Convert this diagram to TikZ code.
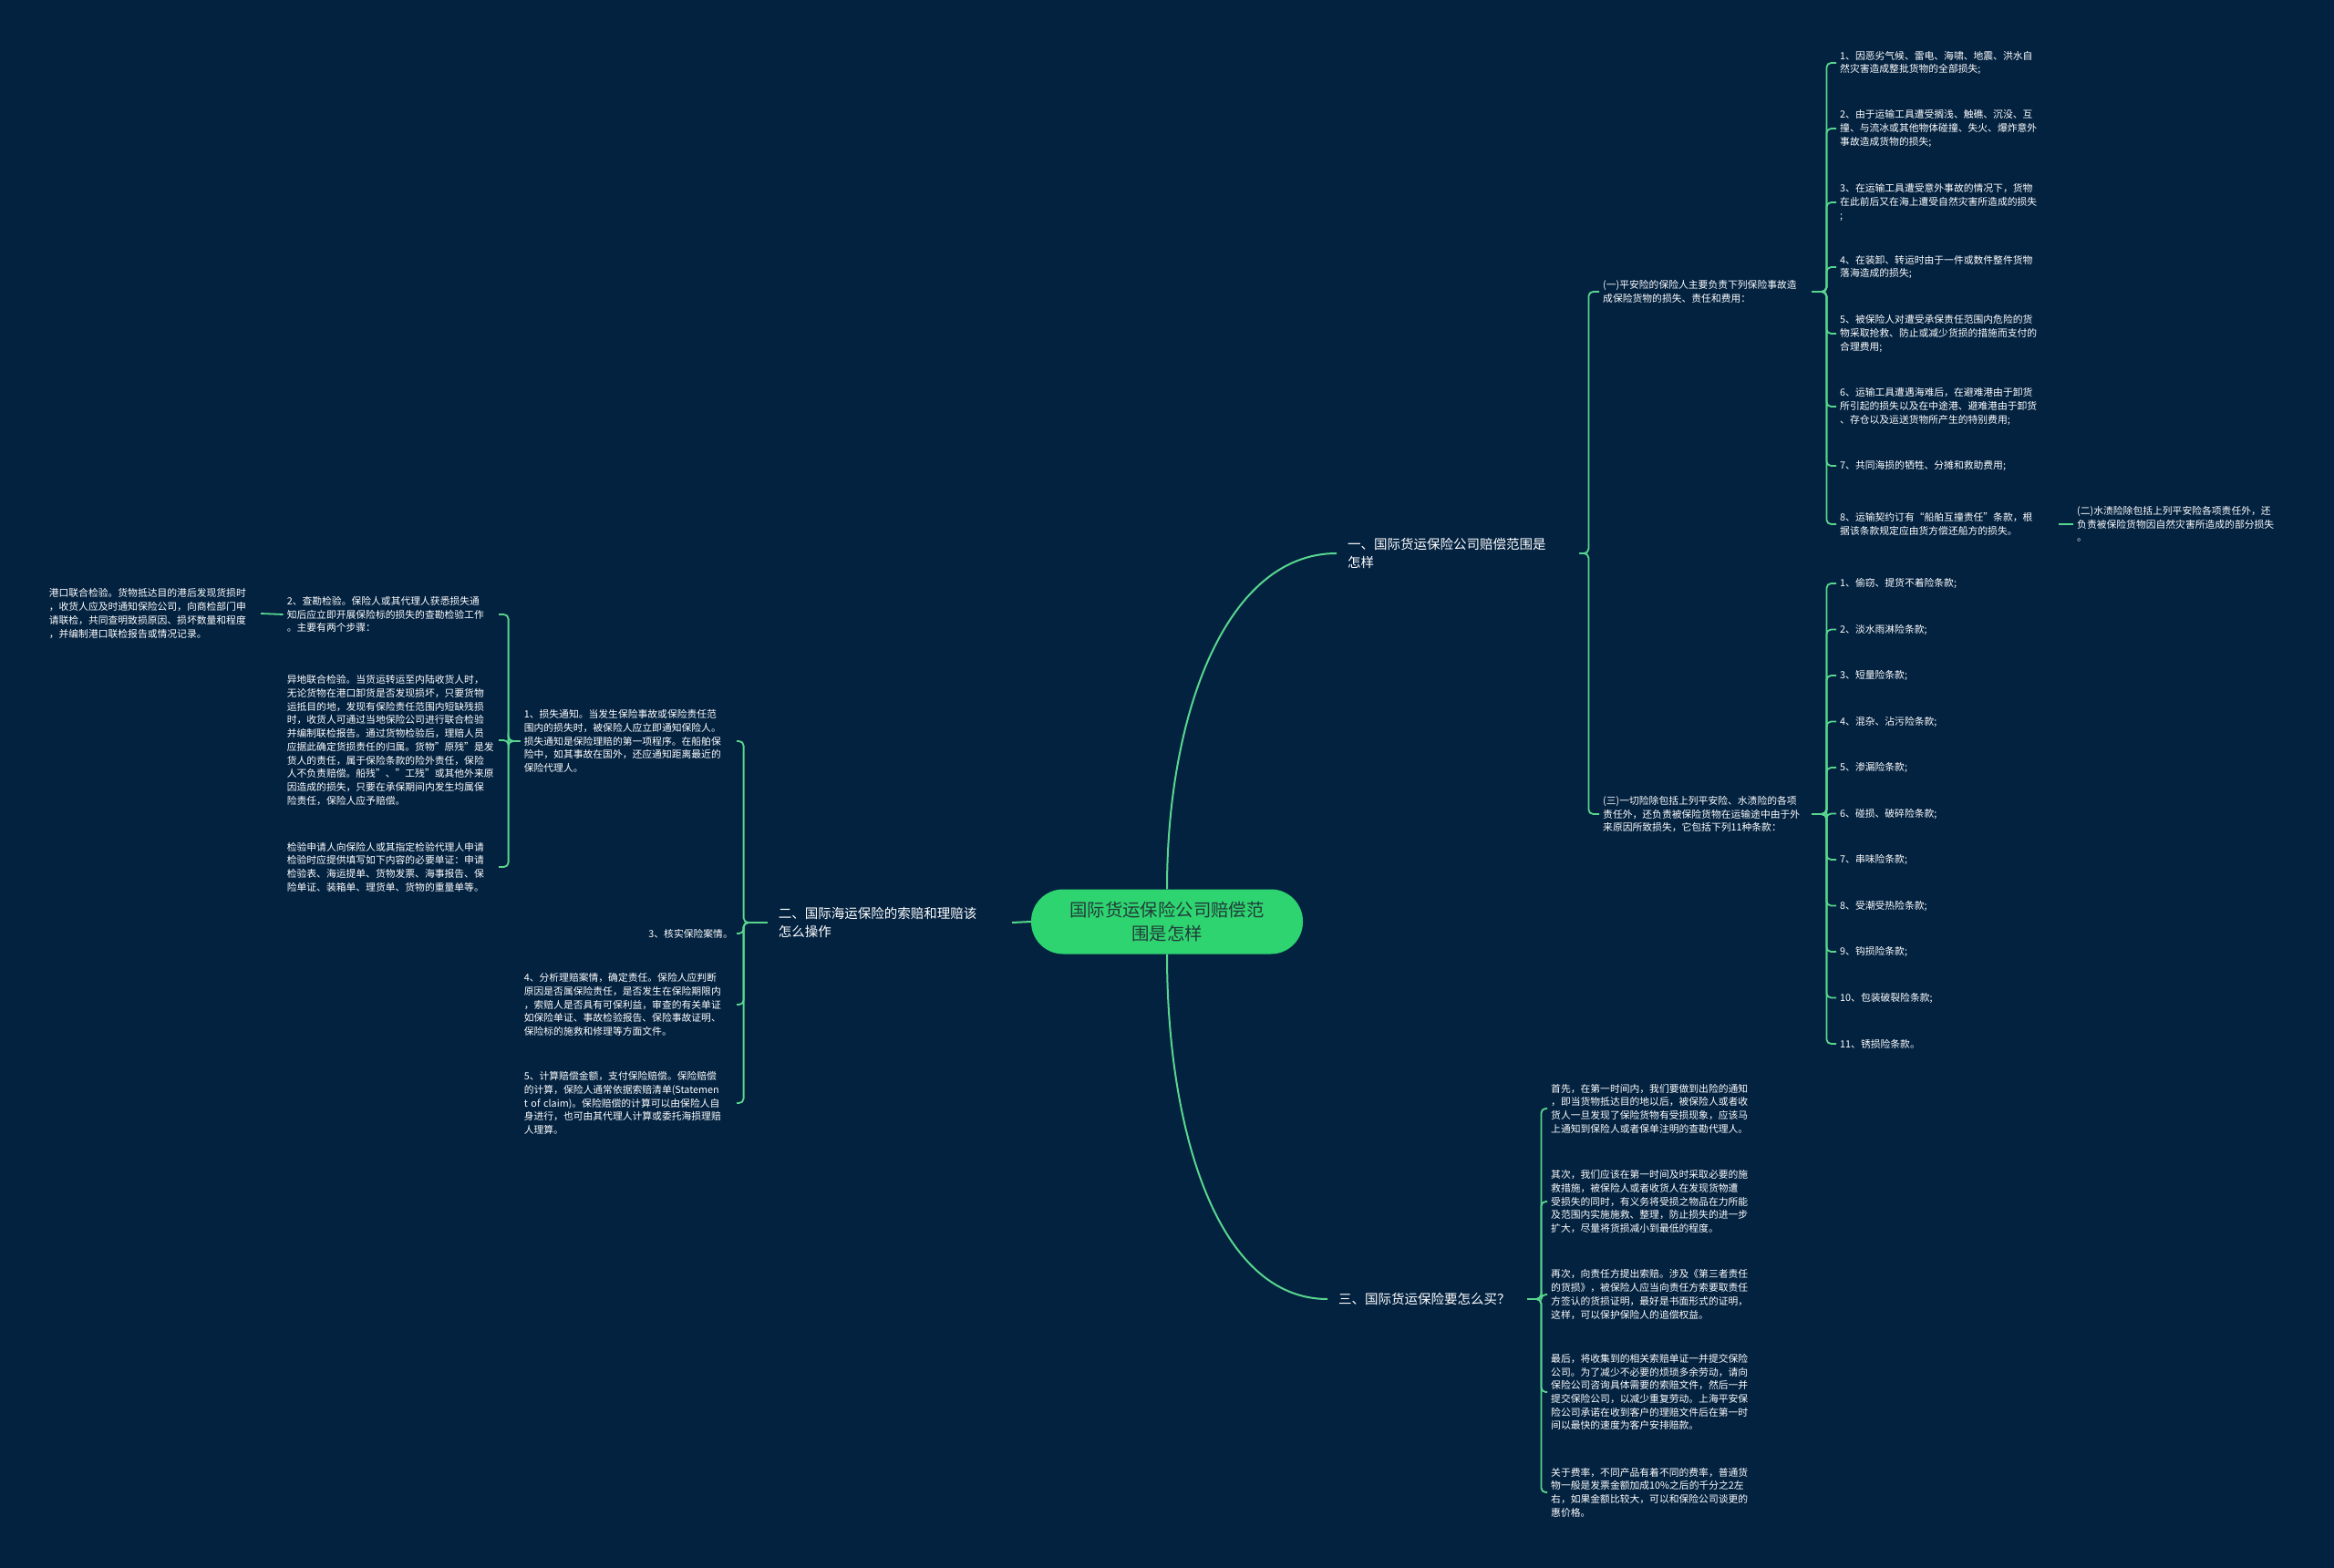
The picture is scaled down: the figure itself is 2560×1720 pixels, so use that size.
\documentclass[tikz,border=0pt]{standalone}
\usepackage{fontspec}
\setmainfont{Noto Sans CJK SC}
\usepackage{tikz}
\definecolor{navybg}{RGB}{3,34,64}
\definecolor{linkgreen}{RGB}{88,214,142}
\definecolor{rootgreen}{RGB}{46,212,112}
\definecolor{roottext}{RGB}{34,60,58}

\tikzset{
  leaf/.style={text=white, font=\fontsize{10.8}{14.7}\selectfont, align=left, inner xsep=4pt, inner ysep=2pt},
  topic/.style={text=white, font=\fontsize{14.5}{19.5}\selectfont, align=left, inner xsep=12pt, inner ysep=2pt},
  link/.style={draw=linkgreen, line width=1.8pt, rounded corners=5pt},
  mainlink/.style={draw=linkgreen, line width=2pt},
}

\begin{document}
\begin{tikzpicture}[x=1pt, y=-1pt]
  \useasboundingbox (0,0) rectangle (2560,1720);
  \fill[navybg] (0,0) rectangle (2560,1720);

  % root
  \node[fill=rootgreen, rounded corners=35pt, minimum width=298pt, minimum height=71pt,
    text=roottext, font=\fontsize{19.4}{26}\selectfont, align=center] (root) at (1280,1011)
    {国际货运保险公司赔偿范\\围是怎样};

  % branch one: scope of compensation
  \node[topic, anchor=west, text width=242pt] (b1) at (1466,607) {一、国际货运保险公司赔偿范围是\\怎样};
  \node[leaf, anchor=west, text width=225pt] (s1) at (1754,320)
    {(一)平安险的保险人主要负责下列保险事故造\\成保险货物的损失、责任和费用：};
  \node[leaf, anchor=west, text width=225pt] (s3) at (1754,893)
    {(三)一切险除包括上列平安险、水渍险的各项\\责任外，还负责被保险货物在运输途中由于外\\来原因所致损失，它包括下列11种条款：};

  \node[leaf, anchor=west, text width=236pt] (i1) at (2014,69) {1、因恶劣气候、雷电、海啸、地震、洪水自\\然灾害造成整批货物的全部损失;};
  \node[leaf, anchor=west, text width=236pt] (i2) at (2014,141) {2、由于运输工具遭受搁浅、触礁、沉没、互\\撞、与流冰或其他物体碰撞、失火、爆炸意外\\事故造成货物的损失;};
  \node[leaf, anchor=west, text width=236pt] (i3) at (2014,222) {3、在运输工具遭受意外事故的情况下，货物\\在此前后又在海上遭受自然灾害所造成的损失\\;};
  \node[leaf, anchor=west, text width=236pt] (i4) at (2014,293) {4、在装卸、转运时由于一件或数件整件货物\\落海造成的损失;};
  \node[leaf, anchor=west, text width=236pt] (i5) at (2014,366) {5、被保险人对遭受承保责任范围内危险的货\\物采取抢救、防止或减少货损的措施而支付的\\合理费用;};
  \node[leaf, anchor=west, text width=236pt] (i6) at (2014,446) {6、运输工具遭遇海难后，在避难港由于卸货\\所引起的损失以及在中途港、避难港由于卸货\\、存仓以及运送货物所产生的特别费用;};
  \node[leaf, anchor=west, text width=236pt] (i7) at (2014,511) {7、共同海损的牺牲、分摊和救助费用;};
  \node[leaf, anchor=west, text width=236pt] (i8) at (2014,575) {8、运输契约订有“船舶互撞责任”条款，根\\据该条款规定应由货方偿还船方的损失。};
  \node[leaf, anchor=west, text width=240pt] (s2) at (2274,575)
    {(二)水渍险除包括上列平安险各项责任外，还\\负责被保险货物因自然灾害所造成的部分损失\\。};

  \foreach \txt [count=\k] in {1、偷窃、提货不着险条款;, 2、淡水雨淋险条款;, 3、短量险条款;,
      4、混杂、沾污险条款;, 5、渗漏险条款;, 6、碰损、破碎险条款;, 7、串味险条款;,
      8、受潮受热险条款;, 9、钩损险条款;, 10、包装破裂险条款;, 11、锈损险条款。} {
    \node[leaf, anchor=west] (j\k) at (2014,{640+(\k-1)*50.5}) {\txt};
  }

  % branch three: how to buy
  \node[topic, anchor=west, text width=195pt] (b3) at (1456,1425) {三、国际货运保险要怎么买？};
  \node[leaf, anchor=west, text width=235pt] (p1) at (1697,1216)
    {首先，在第一时间内，我们要做到出险的通知\\，即当货物抵达目的地以后，被保险人或者收\\货人一旦发现了保险货物有受损现象，应该马\\上通知到保险人或者保单注明的查勘代理人。};
  \node[leaf, anchor=west, text width=235pt] (p2) at (1697,1318)
    {其次，我们应该在第一时间及时采取必要的施\\救措施，被保险人或者收货人在发现货物遭\\受损失的同时，有义务将受损之物品在力所能\\及范围内实施施救、整理，防止损失的进一步\\扩大，尽量将货损减小到最低的程度。};
  \node[leaf, anchor=west, text width=235pt] (p3) at (1697,1420)
    {再次，向责任方提出索赔。涉及《第三者责任\\的货损》，被保险人应当向责任方索要取责任\\方签认的货损证明，最好是书面形式的证明，\\这样，可以保护保险人的追偿权益。};
  \node[leaf, anchor=west, text width=235pt] (p4) at (1697,1527)
    {最后，将收集到的相关索赔单证一并提交保险\\公司。为了减少不必要的烦琐多余劳动，请向\\保险公司咨询具体需要的索赔文件，然后一并\\提交保险公司，以减少重复劳动。上海平安保\\险公司承诺在收到客户的理赔文件后在第一时\\间以最快的速度为客户安排赔款。};
  \node[leaf, anchor=west, text width=235pt] (p5) at (1697,1637)
    {关于费率，不同产品有着不同的费率，普通货\\物一般是发票金额加成10\%之后的千分之2左\\右，如果金额比较大，可以和保险公司谈更的\\惠价格。};

  % branch two: claims and settlement
  \node[topic, anchor=east, text width=244pt] (b2) at (1110,1012) {二、国际海运保险的索赔和理赔该\\怎么操作};
  \node[leaf, anchor=east, text width=229pt] (l1) at (808,813)
    {1、损失通知。当发生保险事故或保险责任范\\围内的损失时，被保险人应立即通知保险人。\\损失通知是保险理赔的第一项程序。在船舶保\\险中，如其事故在国外，还应通知距离最近的\\保险代理人。};
  \node[leaf, anchor=east] (l3) at (808,1024) {3、核实保险案情。};
  \node[leaf, anchor=east, text width=229pt] (l4) at (808,1102)
    {4、分析理赔案情，确定责任。保险人应判断\\原因是否属保险责任，是否发生在保险期限内\\，索赔人是否具有可保利益，审查的有关单证\\如保险单证、事故检验报告、保险事故证明、\\保险标的施救和修理等方面文件。};
  \node[leaf, anchor=east, text width=229pt] (l5) at (808,1210)
    {5、计算赔偿金额，支付保险赔偿。保险赔偿\\的计算，保险人通常依据索赔清单(Statemen\\t~of~claim)。保险赔偿的计算可以由保险人自\\身进行，也可由其代理人计算或委托海损理赔\\人理算。};

  \node[leaf, anchor=east, text width=228pt] (l1a) at (547,674)
    {2、查勘检验。保险人或其代理人获悉损失通\\知后应立即开展保险标的损失的查勘检验工作\\。主要有两个步骤：};
  \node[leaf, anchor=east, text width=228pt] (l1b) at (547,812)
    {异地联合检验。当货运转运至内陆收货人时，\\无论货物在港口卸货是否发现损坏，只要货物\\运抵目的地，发现有保险责任范围内短缺残损\\时，收货人可通过当地保险公司进行联合检验\\并编制联检报告。通过货物检验后，理赔人员\\应据此确定货损责任的归属。货物"原残"是发\\货人的责任，属于保险条款的险外责任，保险\\人不负责赔偿。船残"、"工残"或其他外来原\\因造成的损失，只要在承保期间内发生均属保\\险责任，保险人应予赔偿。};
  \node[leaf, anchor=east, text width=228pt] (l1c) at (547,951)
    {检验申请人向保险人或其指定检验代理人申请\\检验时应提供填写如下内容的必要单证：申请\\检验表、海运提单、货物发票、海事报告、保\\险单证、装箱单、理货单、货物的重量单等。};
  \node[leaf, anchor=east, text width=228pt] (port) at (286,673)
    {港口联合检验。货物抵达目的港后发现货损时\\，收货人应及时通知保险公司，向商检部门申\\请联检，共同查明致损原因、损坏数量和程度\\，并编制港口联检报告或情况记录。};

  % connectors
  \draw[mainlink] (root.north) .. controls +(0,-195) and +(-120,0) .. (b1.west);
  \draw[mainlink] (root.south) .. controls +(0,195) and +(-120,0) .. (b3.west);
  \draw[mainlink] (root.west) -- (b2.east);

  \foreach \k in {s1,s3} \draw[link] (b1.east) -- ++(10,0) |- (\k.west);
  \foreach \k in {i1,i2,i3,i4,i5,i6,i7,i8} \draw[link] (s1.east) -- ++(16,0) |- (\k.west);
  \draw[link] (i8.east) -- (s2.west);
  \foreach \k in {1,...,11} \draw[link] (s3.east) -- ++(16,0) |- (j\k.west);
  \foreach \k in {p1,p2,p3,p4,p5} \draw[link] (b3.east) -- ++(15,0) |- (\k.west);
  \foreach \k in {l1,l3,l4,l5} \draw[link] (b2.west) -- ++(-26,0) |- (\k.east);
  \foreach \k in {l1a,l1b,l1c} \draw[link] (l1.west) -- ++(-13,0) |- (\k.east);
  \draw[link] (l1a.west) -- (port.east);
\end{tikzpicture}
\end{document}
